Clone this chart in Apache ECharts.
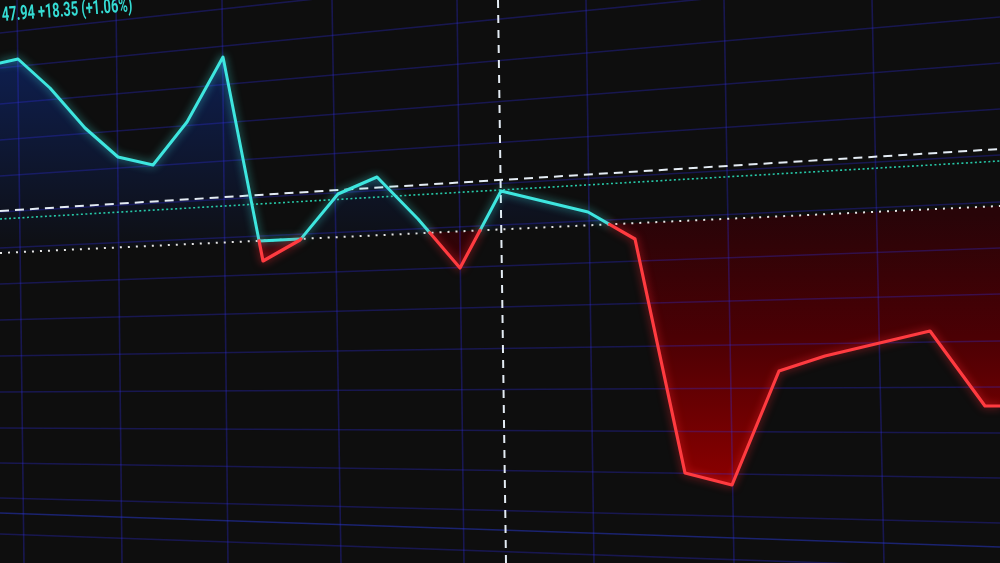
<!DOCTYPE html>
<html>
<head>
<meta charset="utf-8">
<script src="https://cdn.jsdelivr.net/npm/echarts@6/dist/echarts.min.js"></script>
<style>
html,body{margin:0;padding:0;background:#0e0e0e;}
#chart{width:1000px;height:563px;}
</style>
</head>
<body>
<div id="chart"></div>
<script>
// ---- data (chart units = screen position of the photo) ----
const priceX = [0, 18, 50, 85, 118, 153, 187, 223, 263, 300, 338, 377, 418, 460, 501, 588, 635, 685, 732, 779, 825, 930, 985, 1000];
const priceY = [63, 59, 88, 128, 157, 165, 122, 57, 261, 240, 194, 177, 219, 268, 191, 212, 239, 473, 485, 371, 356, 331, 406, 406];
// baseline (white dotted), reference lines: value at left edge and right edge
const baselineEnds = [253, 206];
const crossHEnds = [211, 149];     // white dashed crosshair
const tealEnds = [219, 161];       // teal dotted line
const crossVEnds = [498, 506];     // vertical crosshair x at top / bottom
const cyanArtifact = [[259, 241], [300, 239]];
// perspective grid: horizontal lines (y at left, y at right), vertical lines (x at top, x at bottom)
const hGridLeft  = [33, 68, 104, 140, 176, 212, 248, 284, 320, 356, 392, 428, 463, 498, 534];
const hGridRight = [-75, -30, 17, 63, 109, 155, 202, 248, 294, 341, 387, 433, 478, 523, 569];
const vGridTop    = [17, 116, 222, 332, 457, 586, 724, 872];
const vGridBottom = [24, 122, 228, 341, 464, 594, 734, 884];
const axisLineEnds = [513, 547];
const headerText = '47.94 +18.35 (+1.06%)';

const X0 = 0, X1 = 1000;
function base(x){ return baselineEnds[0] + (baselineEnds[1]-baselineEnds[0]) * (x - X0) / (X1 - X0); }

// split price path into above / below baseline segments
const segs = [];
let cur = null;
for (let i = 0; i < priceX.length; i++) {
  const x = priceX[i], y = priceY[i];
  const above = y <= base(x);
  if (!cur) { cur = {above, pts:[[x,y]]}; continue; }
  if (above !== cur.above) {
    const px = priceX[i-1], py = priceY[i-1];
    const d0 = py - base(px), d1 = y - base(x);
    const t = d0 / (d0 - d1);
    const cx = px + (x - px) * t, cy = py + (y - py) * t;
    cur.pts.push([cx, cy]);
    segs.push(cur);
    cur = {above, pts:[[cx, cy], [x, y]]};
  } else cur.pts.push([x, y]);
}
segs.push(cur);

function lineData(flag){
  const out = [];
  segs.forEach(s => { if (s.above === flag) { s.pts.forEach(p => out.push(p)); out.push([null, null]); } });
  return out;
}
const cyanData = lineData(true);
const redData = lineData(false);

const chart = echarts.init(document.getElementById('chart'), null, {renderer:'canvas'});

const cyanFill = {type:'linear', x:0, y:55, x2:0, y2:245, global:true,
  colorStops:[{offset:0,color:'rgba(14,42,125,0.6)'},{offset:1,color:'rgba(14,42,125,0.06)'}]};
const redFill = {type:'linear', x:0, y:215, x2:0, y2:485, global:true,
  colorStops:[{offset:0,color:'rgba(40,4,8,1)'},{offset:0.45,color:'rgba(75,0,4,1)'},{offset:1,color:'rgba(140,0,0,1)'}]};

function fillSeries(flag, z){
  return {
    type:'custom', z:z, silent:true,
    data:[[0,0]],
    renderItem: function(params, api){
      const children = [];
      segs.forEach(s => {
        if (s.above !== flag) return;
        const first = s.pts[0], last = s.pts[s.pts.length-1];
        const poly = s.pts.map(p => api.coord(p));
        poly.push(api.coord([last[0], base(last[0])]));
        poly.push(api.coord([first[0], base(first[0])]));
        children.push({type:'polygon', shape:{points:poly}, style:{fill: flag ? cyanFill : redFill, stroke:null}});
      });
      return {type:'group', children};
    }
  };
}

const option = {
  backgroundColor: '#0e0e0e',
  animation: false,
  grid: {left:0, right:0, top:0, bottom:0},
  xAxis: {type:'value', min:X0, max:X1, show:false},
  yAxis: {type:'value', min:0, max:563, inverse:true, show:false},
  graphic: [{
    type:'text', x:2, y:16, rotation:0.075, scaleX:0.64, z:100,
    style:{text:headerText, fill:'#35dcd4', font:'bold 20px Roboto', verticalAlign:'middle'}
  }],
  series: [
    fillSeries(true, 1),
    fillSeries(false, 1),
    {
      type:'lines', coordinateSystem:'cartesian2d', z:2, silent:true,
      lineStyle:{color:'rgba(50,45,235,0.3)', width:1.6, opacity:1},
      data: hGridLeft.map((y, i) => ({coords:[[X0, y], [X1, hGridRight[i]]]}))
        .concat(vGridTop.map((x, i) => ({coords:[[x, 0], [vGridBottom[i], 563]]})))
    },
    {
      type:'lines', coordinateSystem:'cartesian2d', z:2, silent:true,
      lineStyle:{color:'rgba(40,56,210,0.5)', width:1.6, opacity:1},
      data:[{coords:[[X0, axisLineEnds[0]], [X1, axisLineEnds[1]]]}]
    },
    {
      type:'line', z:3, silent:true, symbol:'none',
      data:[[X0, baselineEnds[0]], [X1, baselineEnds[1]]],
      lineStyle:{color:'#e6e6e6', width:2, type:[2,6]}
    },
    {
      type:'line', z:3, silent:true, symbol:'none',
      data:[[X0, tealEnds[0]], [X1, tealEnds[1]]],
      lineStyle:{color:'#27c9a8', width:1.6, type:[2,2.5]}
    },
    {
      type:'line', z:3, silent:true, symbol:'none',
      data:[[X0, crossHEnds[0]], [X1, crossHEnds[1]]],
      lineStyle:{color:'#e4ecf4', width:2, type:[9,6]}
    },
    {
      type:'lines', coordinateSystem:'cartesian2d', z:3, silent:true,
      lineStyle:{color:'#e4ecf4', width:2, type:[8,7], opacity:1},
      data:[{coords:[[crossVEnds[0], 0], [crossVEnds[1], 563]]}]
    },
    {
      type:'line', z:4, silent:true, symbol:'none', connectNulls:false,
      data: cyanData,
      lineStyle:{color:'#3ee6df', width:3, shadowBlur:8, shadowColor:'rgba(62,230,223,0.7)', cap:'round', join:'round'}
    },
    {
      type:'line', z:4, silent:true, symbol:'none',
      data: cyanArtifact,
      lineStyle:{color:'#3ee6df', width:3, shadowBlur:8, shadowColor:'rgba(62,230,223,0.7)'}
    },
    {
      type:'line', z:4, silent:true, symbol:'none', connectNulls:false,
      data: redData,
      lineStyle:{color:'#ff3b40', width:3.2, shadowBlur:8, shadowColor:'rgba(255,40,50,0.7)', cap:'round', join:'round'}
    }
  ]
};
chart.setOption(option);
</script>
</body>
</html>
